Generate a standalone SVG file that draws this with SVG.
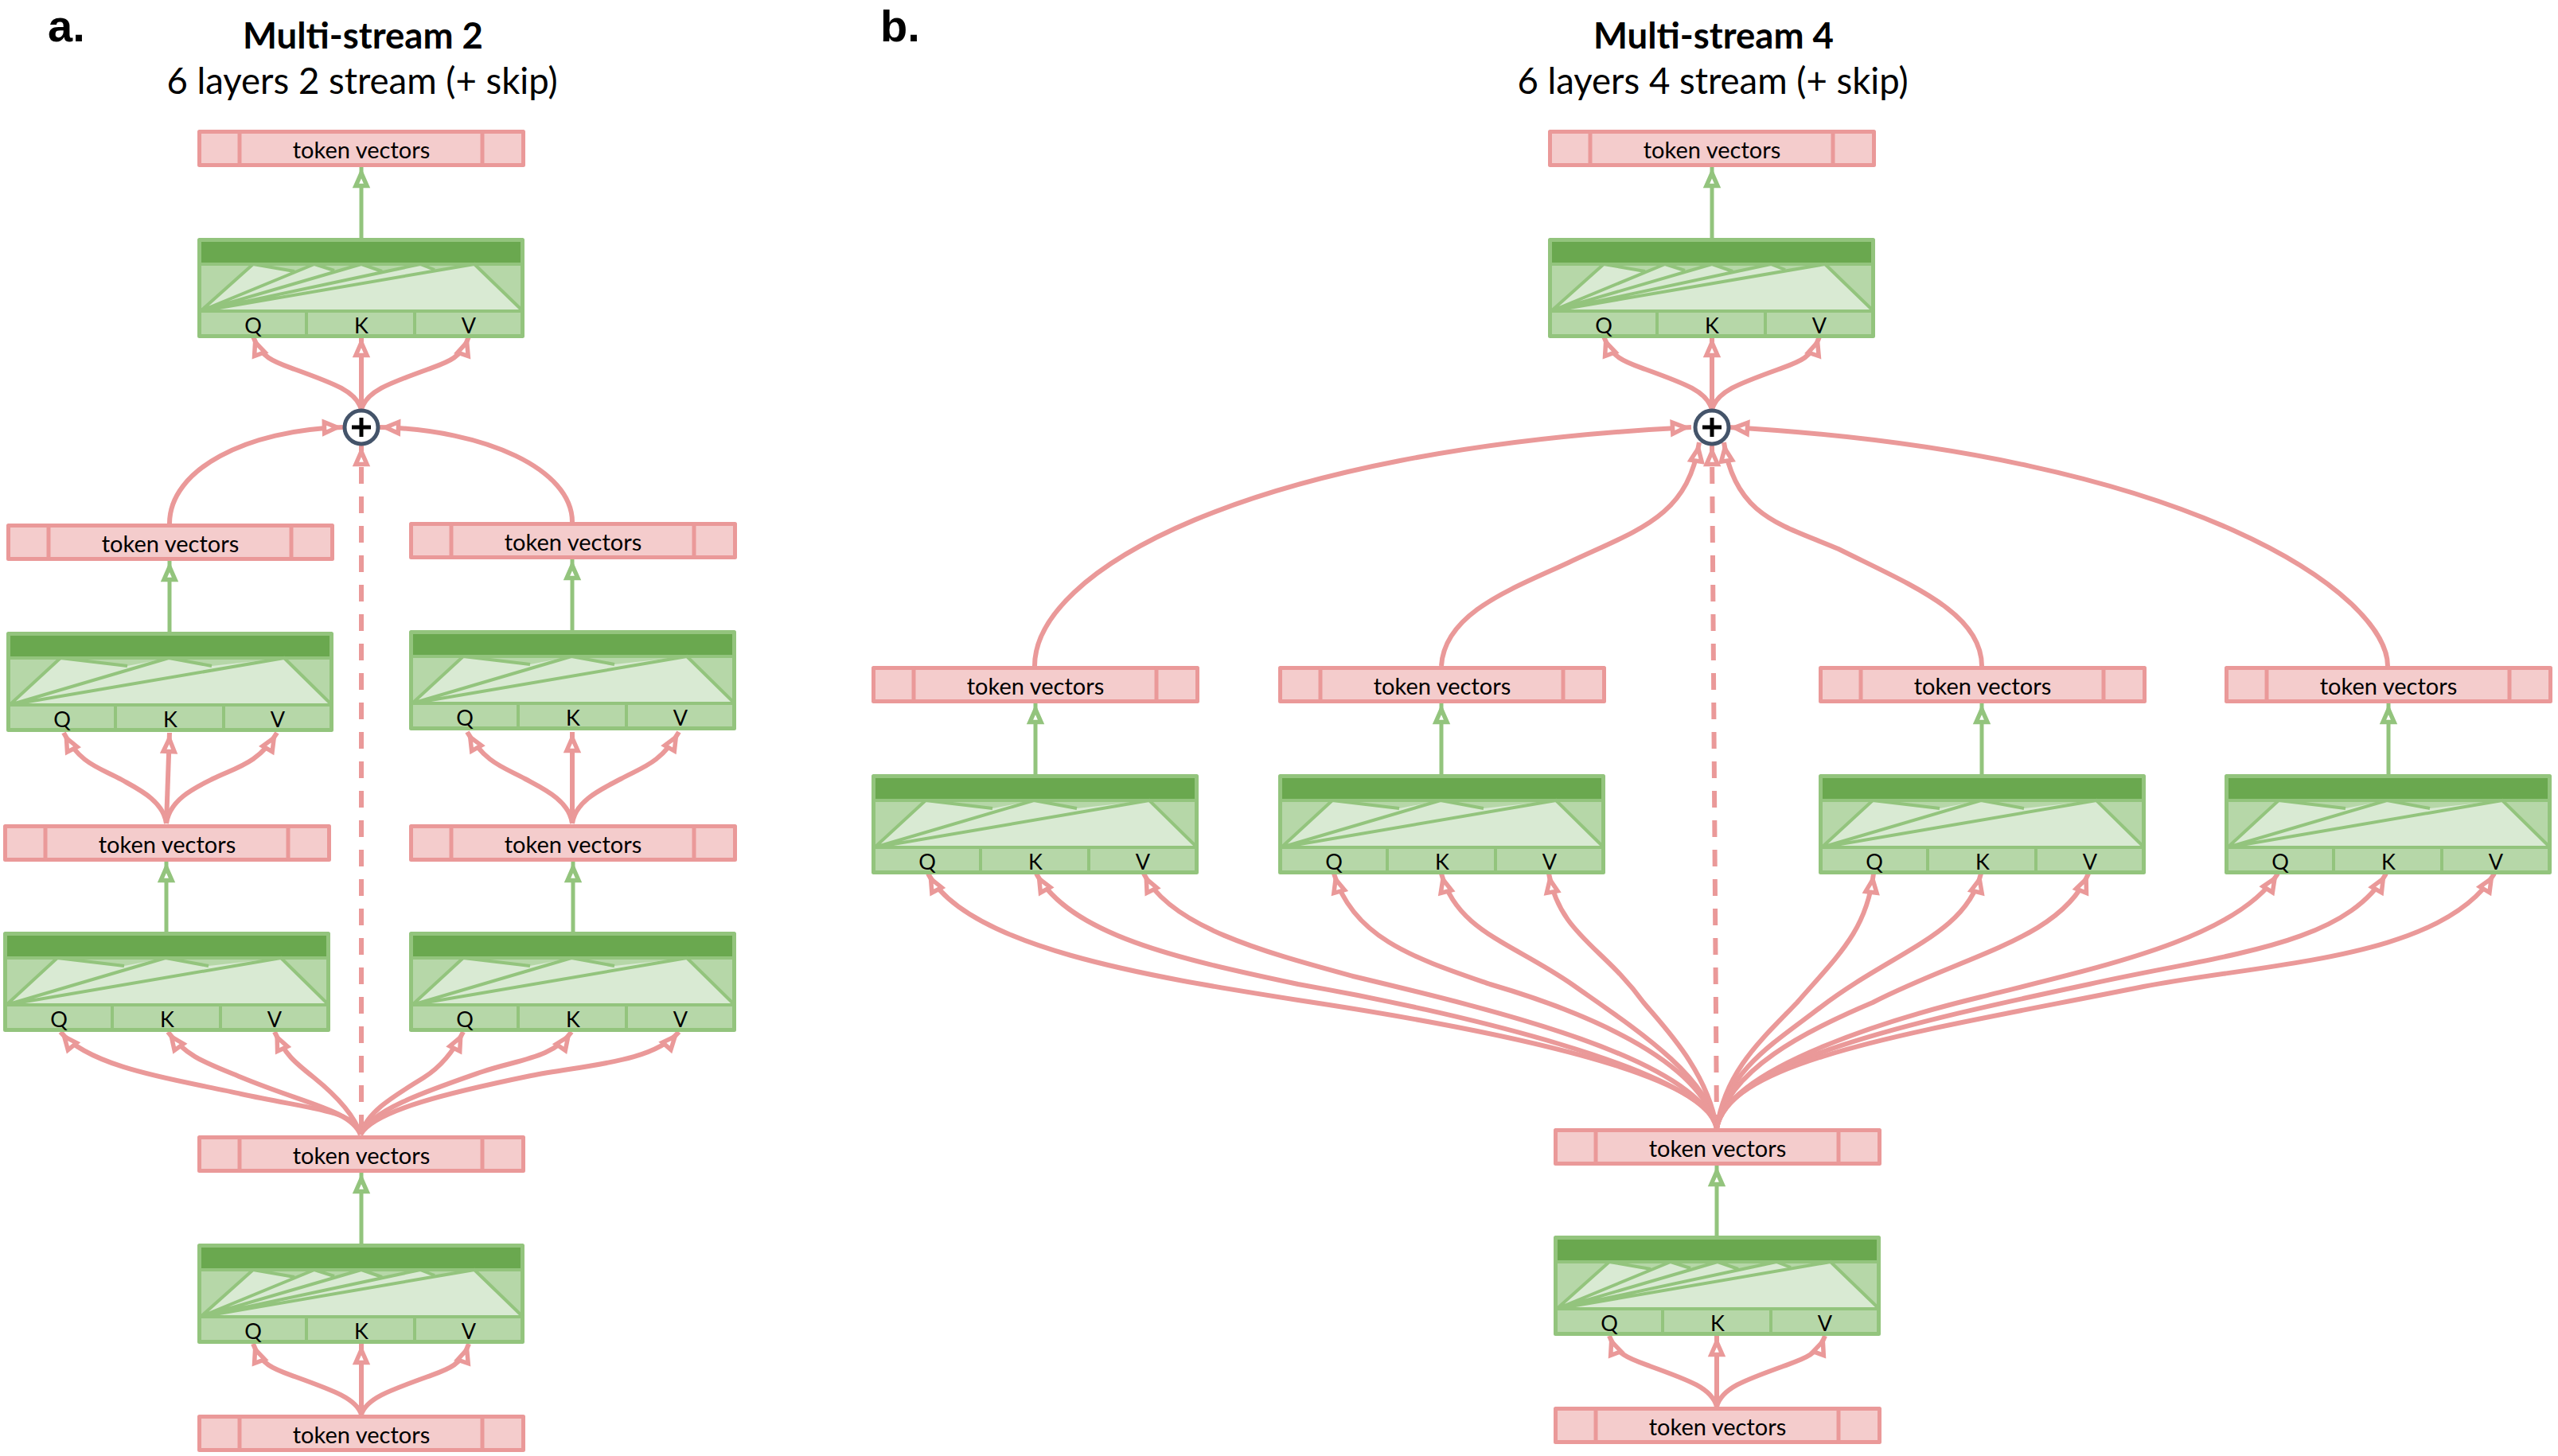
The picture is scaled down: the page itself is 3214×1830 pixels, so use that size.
<svg xmlns="http://www.w3.org/2000/svg" width="3214" height="1830" viewBox="0 0 3214 1830">
<style>
text{font-family:"Lato","Liberation Sans",sans-serif;fill:#000;text-anchor:middle}
.lbl{font-size:29px}
.key{font-size:27px}
.ttl{font-size:45.5px;font-weight:700}
.sub{font-size:45.5px}
text.pan{font-family:"Liberation Sans",sans-serif;font-size:56px;font-weight:700;text-anchor:start}
.p{fill:none;stroke:#ea9999;stroke-width:6;marker-end:url(#ap)}
.g{fill:none;stroke:#93c47d;stroke-width:5;marker-end:url(#ag)}
.d{stroke-dasharray:21 16}
.tb{fill:#f4cccc;stroke:#ea9999;stroke-width:5;stroke-linejoin:round}
.ab{fill:#b6d7a8;stroke:#93c47d;stroke-width:5;stroke-linejoin:round}
.an{fill:none;stroke:#93c47d;stroke-width:4}
.sum{fill:#fff;stroke:#44546a;stroke-width:5}
.plus{stroke:#000;stroke-width:5;fill:none}
</style>
<defs>
<marker id="ap" markerUnits="userSpaceOnUse" markerWidth="36" markerHeight="34" refX="30.5" refY="17" orient="auto"><path d="M7 10L23 17L7 24Z" fill="#fff" stroke="#ea9999" stroke-width="5.5"/></marker>
<marker id="ag" markerUnits="userSpaceOnUse" markerWidth="36" markerHeight="34" refX="30.5" refY="17" orient="auto"><path d="M7 10L23 17L7 24Z" fill="#fff" stroke="#93c47d" stroke-width="5.5"/></marker>
<g id="tok"><rect class="tb" x="2.5" y="2.5" width="407" height="42"/><path class="tb" d="M53 2.5V44.5M358 2.5V44.5"/></g>
<g id="frame">
<rect class="ab" x="2.5" y="2.5" width="406" height="121"/>
<rect x="5" y="5" width="401" height="26" fill="#6aa84f"/>
<path d="M4 92L68 33H348L409 92Z" fill="#d9ead3"/>
</g>
<!-- attention block with five heads -->
<g id="att5">
<use href="#frame"/>
<path d="M70 33H147L122 42ZM147 33H206L172 41ZM206 33H280L232 42ZM280 33H348L298 40Z" fill="#b6d7a8"/>
<path class="an" d="M4 92L70 33M4 92L147 33M4 92L206 33M4 92L280 33M4 92L348 33L409 92M70 33L122 42M147 33L172 41M206 33L232 42M280 33L298 40"/>
<path class="an" d="M2 33H409M2 92H409M137 92V124M273 92V124"/>
</g>
<!-- attention block with three heads -->
<g id="att3">
<use href="#frame"/>
<path d="M68 33H204L152 43ZM204 33H349L258 43Z" fill="#b6d7a8"/>
<path class="an" d="M4 92L68 33M4 92L204 33M4 92L349 33L409 92M68 33L152 43M204 33L258 43"/>
<path class="an" d="M2 33H409M2 92H409M137 92V124M273 92V124"/>
</g>
</defs>

<g id="captions">
<text class="pan" x="60" y="52">a.</text>
<text class="pan" x="1106" y="52">b.</text>
<text class="ttl" x="456" y="61">Multi-stream 2</text>
<text class="sub" x="455" y="118">6 layers 2 stream (+ skip)</text>
<text class="ttl" x="2153" y="61">Multi-stream 4</text>
<text class="sub" x="2152" y="118">6 layers 4 stream (+ skip)</text>
</g>

<g id="connectors">
<!-- two streams -->
<path class="g" d="M454 299V210"/>
<path class="p" d="M454 515C448 492 420 482 370 464C345 455 328 450 318 423"/>
<path class="p" d="M454 515V423"/>
<path class="p" d="M454 515C460 492 488 482 538 464C563 455 580 450 589 423"/>
<path class="p" d="M213 658C213 590 310 540 431 537"/>
<path class="p" d="M719 656C719 590 610 540 477 537"/>
<path class="p d" style="stroke-dashoffset:32" d="M454 1427V560"/>
<path class="g" d="M213 794V705"/>
<path class="g" d="M719 792V703"/>
<path class="p" d="M209 1035C205 1005 170 990 151 979C125 965 100 960 80 921"/>
<path class="p" d="M209 1035L213 921"/>
<path class="p" d="M209 1035C213 1005 245 990 267 979C295 965 325 960 348 921"/>
<path class="p" d="M719 1035C715 1005 680 990 660 979C635 965 610 960 587 920"/>
<path class="p" d="M719 1035V920"/>
<path class="p" d="M719 1035C723 1005 760 990 780 979C805 965 830 960 853 920"/>
<path class="g" d="M209 1171V1083"/>
<path class="g" d="M720 1171V1083"/>
<path class="p" d="M453 1426C445 1395 395 1395 303 1375C240 1360 115 1345 76 1297"/>
<path class="p" d="M453 1426C440 1395 385 1388 303 1354C265 1338 235 1330 211 1297"/>
<path class="p" d="M453 1426C445 1400 420 1375 394 1354C370 1335 358 1325 345 1297"/>
<path class="p" d="M453 1426C462 1395 500 1375 533 1354C552 1342 568 1325 582 1297"/>
<path class="p" d="M453 1426C465 1395 540 1370 606 1347C650 1332 695 1330 718 1297"/>
<path class="p" d="M453 1426C470 1395 570 1372 667 1352C740 1338 820 1335 853 1297"/>
<path class="g" d="M454 1563V1474"/>
<path class="p" d="M454 1778C448 1758 420 1748 370 1730C345 1721 328 1716 318 1689"/>
<path class="p" d="M454 1778V1689"/>
<path class="p" d="M454 1778C460 1758 488 1748 538 1730C563 1721 580 1716 589 1689"/>
<!-- four streams -->
<path class="g" d="M2151 299V210"/>
<path class="p" d="M2151 515C2145 492 2117 482 2067 464C2042 455 2025 450 2015 423"/>
<path class="p" d="M2151 515V423"/>
<path class="p" d="M2151 515C2157 492 2185 482 2235 464C2260 455 2277 450 2286 423"/>
<path class="p" d="M1300 837C1300 720 1560 565 2125 537"/>
<path class="p" d="M1811 837C1815 770 1900 740 1971 707C2060 665 2120 650 2135 556"/>
<path class="p" d="M2490 837C2490 770 2400 735 2310 690C2240 660 2180 650 2166 556"/>
<path class="p" d="M3000 837C3000 750 2760 570 2172 537"/>
<path class="p d" style="stroke-dashoffset:4" d="M2157 1418L2151 560"/>
<path class="g" d="M1301 973V884"/>
<path class="g" d="M1811 973V884"/>
<path class="g" d="M2490 973V884"/>
<path class="g" d="M3001 973V884"/>
<path class="p" d="M2157 1418C2145 1345 1850 1290 1631 1257C1440 1227 1215 1190 1166 1098"/>
<path class="p" d="M2157 1418C2145 1345 1820 1270 1631 1237C1480 1205 1345 1175 1302 1098"/>
<path class="p" d="M2157 1418C2130 1330 1880 1270 1700 1227C1590 1197 1470 1165 1437 1098"/>
<path class="p" d="M2157 1418C2135 1330 1985 1270 1872 1237C1780 1205 1700 1180 1676 1098"/>
<path class="p" d="M2157 1418C2145 1350 2050 1290 1975 1237C1900 1185 1830 1170 1811 1098"/>
<path class="p" d="M2157 1418C2145 1345 2090 1290 2065 1260C2015 1190 1960 1175 1946 1098"/>
<path class="p" d="M2157 1418C2168 1345 2215 1305 2258 1260C2310 1200 2345 1170 2354 1098"/>
<path class="p" d="M2157 1418C2170 1345 2230 1310 2286 1267C2380 1195 2470 1175 2489 1098"/>
<path class="p" d="M2157 1418C2170 1345 2270 1295 2353 1260C2470 1200 2590 1180 2624 1098"/>
<path class="p" d="M2157 1418C2170 1340 2390 1277 2489 1253C2640 1215 2810 1180 2862 1098"/>
<path class="p" d="M2157 1418C2172 1335 2400 1285 2625 1237C2790 1200 2945 1190 2998 1098"/>
<path class="p" d="M2157 1418C2172 1330 2420 1295 2693 1240C2850 1210 3070 1205 3134 1098"/>
<path class="g" d="M2157 1553V1465"/>
<path class="p" d="M2157 1768C2151 1745 2123 1735 2073 1717C2048 1708 2031 1703 2022 1679"/>
<path class="p" d="M2157 1768V1679"/>
<path class="p" d="M2157 1768C2163 1745 2191 1735 2241 1717C2266 1708 2284 1703 2293 1679"/>
</g>

<g id="a-sum"><circle class="sum" cx="454" cy="537" r="21"/><path class="plus" d="M442 537H466M454 525V549"/></g>
<g id="b-sum"><circle class="sum" cx="2151" cy="537" r="21"/><path class="plus" d="M2139 537H2163M2151 525V549"/></g>

<g id="a-out"><use href="#tok" x="248" y="163"/><text class="lbl" x="454" y="199">token vectors</text></g>
<g id="a-head"><use href="#att5" x="248" y="299"/><text class="key" x="318" y="419">Q</text><text class="key" x="454" y="419">K</text><text class="key" x="589" y="419">V</text></g>
<g id="a-l-out"><use href="#tok" x="8" y="658"/><text class="lbl" x="214" y="694">token vectors</text></g>
<g id="a-l-att2"><use href="#att3" x="8" y="794"/><text class="key" x="78" y="914">Q</text><text class="key" x="214" y="914">K</text><text class="key" x="349" y="914">V</text></g>
<g id="a-l-mid"><use href="#tok" x="4" y="1036"/><text class="lbl" x="210" y="1072">token vectors</text></g>
<g id="a-l-att1"><use href="#att3" x="4" y="1171"/><text class="key" x="74" y="1291">Q</text><text class="key" x="210" y="1291">K</text><text class="key" x="345" y="1291">V</text></g>
<g id="a-r-out"><use href="#tok" x="514" y="656"/><text class="lbl" x="720" y="692">token vectors</text></g>
<g id="a-r-att2"><use href="#att3" x="514" y="792"/><text class="key" x="584" y="912">Q</text><text class="key" x="720" y="912">K</text><text class="key" x="855" y="912">V</text></g>
<g id="a-r-mid"><use href="#tok" x="514" y="1036"/><text class="lbl" x="720" y="1072">token vectors</text></g>
<g id="a-r-att1"><use href="#att3" x="514" y="1171"/><text class="key" x="584" y="1291">Q</text><text class="key" x="720" y="1291">K</text><text class="key" x="855" y="1291">V</text></g>
<g id="a-mid"><use href="#tok" x="248" y="1427"/><text class="lbl" x="454" y="1463">token vectors</text></g>
<g id="a-base"><use href="#att5" x="248" y="1563"/><text class="key" x="318" y="1683">Q</text><text class="key" x="454" y="1683">K</text><text class="key" x="589" y="1683">V</text></g>
<g id="a-in"><use href="#tok" x="248" y="1778"/><text class="lbl" x="454" y="1814">token vectors</text></g>

<g id="b-out"><use href="#tok" x="1945" y="163"/><text class="lbl" x="2151" y="199">token vectors</text></g>
<g id="b-head"><use href="#att5" x="1945" y="299"/><text class="key" x="2015" y="419">Q</text><text class="key" x="2151" y="419">K</text><text class="key" x="2286" y="419">V</text></g>
<g id="b-1-out"><use href="#tok" x="1095" y="837"/><text class="lbl" x="1301" y="873">token vectors</text></g>
<g id="b-1-att"><use href="#att3" x="1095" y="973"/><text class="key" x="1165" y="1093">Q</text><text class="key" x="1301" y="1093">K</text><text class="key" x="1436" y="1093">V</text></g>
<g id="b-2-out"><use href="#tok" x="1606" y="837"/><text class="lbl" x="1812" y="873">token vectors</text></g>
<g id="b-2-att"><use href="#att3" x="1606" y="973"/><text class="key" x="1676" y="1093">Q</text><text class="key" x="1812" y="1093">K</text><text class="key" x="1947" y="1093">V</text></g>
<g id="b-3-out"><use href="#tok" x="2285" y="837"/><text class="lbl" x="2491" y="873">token vectors</text></g>
<g id="b-3-att"><use href="#att3" x="2285" y="973"/><text class="key" x="2355" y="1093">Q</text><text class="key" x="2491" y="1093">K</text><text class="key" x="2626" y="1093">V</text></g>
<g id="b-4-out"><use href="#tok" x="2795" y="837"/><text class="lbl" x="3001" y="873">token vectors</text></g>
<g id="b-4-att"><use href="#att3" x="2795" y="973"/><text class="key" x="2865" y="1093">Q</text><text class="key" x="3001" y="1093">K</text><text class="key" x="3136" y="1093">V</text></g>
<g id="b-mid"><use href="#tok" x="1952" y="1418"/><text class="lbl" x="2158" y="1454">token vectors</text></g>
<g id="b-base"><use href="#att5" x="1952" y="1553"/><text class="key" x="2022" y="1673">Q</text><text class="key" x="2158" y="1673">K</text><text class="key" x="2293" y="1673">V</text></g>
<g id="b-in"><use href="#tok" x="1952" y="1768"/><text class="lbl" x="2158" y="1804">token vectors</text></g>
</svg>
